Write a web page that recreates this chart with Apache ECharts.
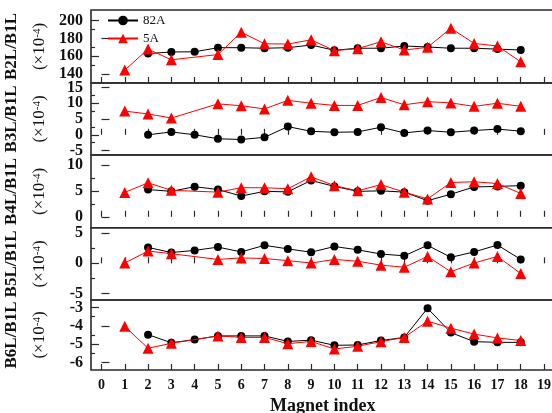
<!DOCTYPE html>
<html><head><meta charset="utf-8">
<script src="https://cdn.jsdelivr.net/npm/echarts@6/dist/echarts.min.js"></script>
<style>html,body{margin:0;padding:0;background:#fff}#c{width:552px;height:413px}</style>
</head><body><div id="c"></div>
<script>
const magnetIndex = [1,2,3,4,5,6,7,8,9,10,11,12,13,14,15,16,17,18];
const xTickValues = [0,1,2,3,4,5,6,7,8,9,10,11,12,13,14,15,16,17,18,19];
const seriesNames = ['82A','5A'];

const b2_82A = [null,163,164.8,165,169.6,169.6,169,169.6,172.6,166.7,169,169,171.5,170.4,169,169,168,167];
const b2_5A  = [144.4,168,156,null,161.9,187,174,173.7,178.5,166.3,168.5,176.3,167,170,191.5,174.4,171.5,153.7];

const b3_82A = [null,0,0.9,0,-1.25,-1.5,-0.8,2.6,1.1,0.8,0.9,2.4,0.6,1.35,0.8,1.35,1.8,1.15];
const b3_5A  = [7.5,6.6,5.3,null,9.8,9.2,8.2,10.9,10,9.3,9.3,11.8,9.5,10.5,10.1,9,10,9];

const b4_82A = [null,5.25,4.9,5.8,5.25,4.0,4.9,4.8,7.0,5.85,4.9,5.0,4.75,3.1,4.35,5.75,5.85,6.0];
const b4_5A  = [4.7,6.55,5.1,null,4.75,5.6,5.6,5.4,7.7,6.0,5.0,6.2,4.75,3.45,6.6,6.75,6.4,4.5];

const b5_82A = [null,2.65,1.8,2.15,2.7,1.9,3.0,2.4,1.85,2.8,2.25,1.55,1.25,3.0,1.0,1.9,3.05,0.65];
const b5_5A  = [0.05,2.05,1.6,null,0.65,0.9,0.8,0.45,0.05,0.65,0.35,-0.3,-0.65,1.15,-1.4,0.05,1.15,-1.7];

const b6_82A = [null,-4.48,-4.92,-4.75,-4.55,-4.55,-4.55,-4.85,-4.78,-5.06,-5.04,-4.8,-4.63,-3.05,-4.37,-4.86,-4.9,-4.9];
const b6_5A  = [-4.03,-5.22,-4.95,null,-4.55,-4.63,-4.63,-4.97,-4.85,-5.26,-5.11,-4.86,-4.63,-3.75,-4.13,-4.45,-4.66,-4.8];

const panelNames = ['B2L/B1L','B3L/B1L','B4L/B1L','B5L/B1L','B6L/B1L'];
const majorTicks = [[140,160,180,200],[-5,0,5,10,15],[0,5,10],[-5,0,5],[-6,-5,-4,-3]];
const minorTicks = [[150,170,190],[-2.5,2.5,7.5,12.5],[2.5,7.5],[-2.5,2.5],[-5.5,-4.5,-3.5]];
const yRanges = [[129.9,212],[-6.4,16.4],[-2.1,11.9],[-6.1,5.93],[-6.4,-2.6]];
const panelData = [[b2_82A,b2_5A],[b3_82A,b3_5A],[b4_82A,b4_5A],[b5_82A,b5_5A],[b6_82A,b6_5A]];

const gridTops = [10,83,155,227.7,300];
const gridHeights = [73,72,72.7,72.3,70];
const LEFT = 91, WIDTH = 463.5;
const FONT = '"Liberation Serif","Times New Roman",serif';
const AX = '#2a2a2a';

const grids = [], xAxes = [], yAxes = [], series = [], graphics = [];
const labelStyle = {margin: 8, interval: 0, hideOverlap: false, fontFamily: FONT, fontWeight: 'bold', fontSize: 16, color: '#111'};
for (let i = 0; i < 5; i++) {
  grids.push({left: LEFT, top: gridTops[i], width: WIDTH, height: gridHeights[i],
    show: true, borderColor: AX, borderWidth: 1.6, backgroundColor: 'transparent',
    containLabel: false, outerBoundsMode: 'none'});
  const last = i === 4;
  xAxes.push({type: 'value', gridIndex: i, min: -0.45, max: 19.45, position: 'bottom',
    axisLine: {show: false},
    axisTick: {show: true, inside: true, length: 6, customValues: xTickValues, lineStyle: {color: AX, width: 1.2}},
    axisLabel: {show: last, customValues: xTickValues, interval: 0, margin: 8, hideOverlap: false, fontFamily: FONT, fontWeight: 'bold', fontSize: 14, color: '#111'},
    splitLine: {show: false},
    name: last ? 'Magnet index' : '', nameLocation: 'middle', nameGap: 27,
    nameTextStyle: {fontFamily: FONT, fontWeight: 'bold', fontSize: 18, color: '#111'}
  });
  // major ticks split over two left axes so every label is kept
  const evenMajor = majorTicks[i].filter((v, k) => k % 2 === 0);
  const oddMajor = majorTicks[i].filter((v, k) => k % 2 === 1);
  [evenMajor, oddMajor].forEach(vals => {
    yAxes.push({type: 'value', gridIndex: i, position: 'left', offset: 0,
      min: yRanges[i][0], max: yRanges[i][1],
      axisLine: {show: false},
      axisTick: {show: true, inside: true, length: 8, customValues: vals, lineStyle: {color: AX, width: 1.2}},
      axisLabel: Object.assign({customValues: vals}, labelStyle),
      splitLine: {show: false}
    });
  });
  yAxes.push({type: 'value', gridIndex: i, position: 'left', offset: 0,
    min: yRanges[i][0], max: yRanges[i][1],
    axisLine: {show: false},
    axisTick: {show: true, inside: true, length: 4, customValues: minorTicks[i], lineStyle: {color: AX, width: 1.2}},
    axisLabel: {show: false},
    splitLine: {show: false}
  });
  const conf = [
    {name: seriesNames[0], color: '#000000', symbol: 'circle', size: 8},
    {name: seriesNames[1], color: '#ff0000', symbol: 'triangle', size: 11}
  ];
  conf.forEach((c, k) => {
    series.push({type: 'line', name: c.name, xAxisIndex: i, yAxisIndex: 3 * i,
      data: magnetIndex.map((m, j) => [m, panelData[i][k][j] === null ? '-' : panelData[i][k][j]]),
      connectNulls: true, symbol: c.symbol, symbolSize: c.size, showSymbol: true,
      itemStyle: {color: c.color}, lineStyle: {color: c.color, width: 1},
      animation: false, z: 3 + k
    });
  });
  const cy = gridTops[i] + gridHeights[i] / 2;
  graphics.push({type: 'text', x: 12, y: cy, rotation: Math.PI / 2,
    style: {text: panelNames[i], fill: '#111', font: 'bold 17px ' + FONT, align: 'center', verticalAlign: 'middle'}});
  graphics.push({type: 'text', x: 40, y: cy, rotation: Math.PI / 2,
    style: {text: '(×10{s|-4})', fill: '#111', align: 'center', verticalAlign: 'middle',
      rich: {s: {fontSize: 11, fontFamily: FONT, verticalAlign: 'top', fill: '#111', padding: [0, 0, 6, 0]}},
      font: '17px ' + FONT}});
}

const chart = echarts.init(document.getElementById('c'), null, {renderer: 'canvas'});
chart.setOption({
  animation: false,
  backgroundColor: '#ffffff',
  grid: grids, xAxis: xAxes, yAxis: yAxes, series: series,
  legend: {data: seriesNames, orient: 'vertical', left: 102, top: 9, itemWidth: 30, itemHeight: 12, itemGap: 5,
    textStyle: {fontFamily: FONT, fontSize: 13, color: '#111'}},
  graphic: graphics
});
</script></body></html>
